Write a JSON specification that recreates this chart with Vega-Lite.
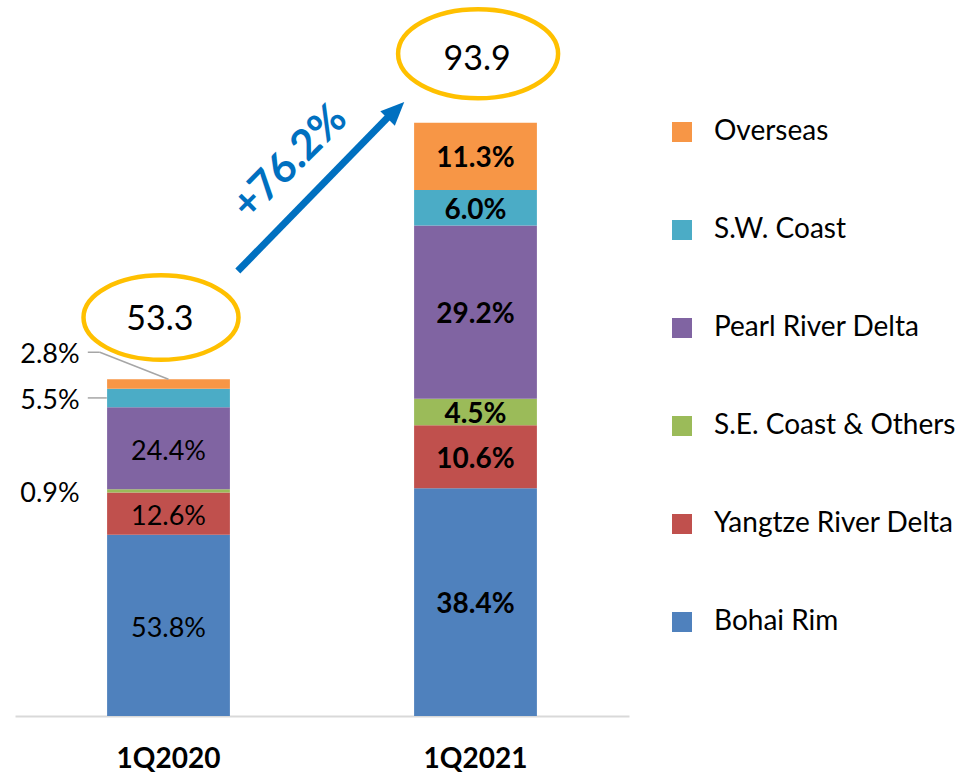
{
  "$schema": "https://vega.github.io/schema/vega-lite/v6.json",
  "width": 614,
  "height": 716,
  "autosize": {"type": "none"},
  "padding": {"left": 15, "top": 0, "right": 340, "bottom": 57},
  "background": "white",
  "config": {
    "font": "Lato",
    "view": {"stroke": null},
    "axisY": {"disable": true},
    "axisX": {"domainColor": "#D9D9D9", "domainWidth": 2, "ticks": false, "grid": false, "labelFont": "Lato", "labelFontSize": 28, "labelFontWeight": "bold", "labelColor": "#000000", "labelPadding": 29, "labelAngle": 0},
    "legend": {"orient": "none", "legendX": 653, "legendY": 118, "title": null, "symbolType": "square", "symbolSize": 400, "symbolStrokeWidth": 0, "symbolOpacity": 1, "labelFont": "Lato", "labelFontSize": 28, "labelColor": "#000000", "labelOffset": 18, "rowPadding": 70, "labelLimit": 400, "padding": 0}
  },
  "datasets": {
    "shares": [
      {"period": "1Q2020", "region": "Bohai Rim", "share": 53.8, "value": 28.68},
      {"period": "1Q2020", "region": "Yangtze River Delta", "share": 12.6, "value": 6.72},
      {"period": "1Q2020", "region": "S.E. Coast & Others", "share": 0.9, "value": 0.48},
      {"period": "1Q2020", "region": "Pearl River Delta", "share": 24.4, "value": 13.01},
      {"period": "1Q2020", "region": "S.W. Coast", "share": 5.5, "value": 2.93},
      {"period": "1Q2020", "region": "Overseas", "share": 2.8, "value": 1.49},
      {"period": "1Q2021", "region": "Bohai Rim", "share": 38.4, "value": 36.06},
      {"period": "1Q2021", "region": "Yangtze River Delta", "share": 10.6, "value": 9.95},
      {"period": "1Q2021", "region": "S.E. Coast & Others", "share": 4.5, "value": 4.23},
      {"period": "1Q2021", "region": "Pearl River Delta", "share": 29.2, "value": 27.42},
      {"period": "1Q2021", "region": "S.W. Coast", "share": 6.0, "value": 5.63},
      {"period": "1Q2021", "region": "Overseas", "share": 11.3, "value": 10.61}
    ],
    "totals": [
      {"period": "1Q2020", "total": 53.3},
      {"period": "1Q2021", "total": 93.9}
    ],
    "growth": [
      {"from": "1Q2020", "to": "1Q2021", "start": 53.3, "end": 93.9, "label": "+76.2%"}
    ]
  },
  "layer": [
    {
      "data": {"name": "shares"},
      "transform": [
        {"calculate": "indexof(['Bohai Rim','Yangtze River Delta','S.E. Coast & Others','Pearl River Delta','S.W. Coast','Overseas'], datum.region)", "as": "rank"},
        {"stack": "value", "groupby": ["period"], "sort": [{"field": "rank", "order": "ascending"}], "as": ["y0", "y1"]},
        {"calculate": "(datum.y0 + datum.y1) / 2", "as": "mid"},
        {"calculate": "format(datum.share, '.1f') + '%'", "as": "label"}
      ],
      "layer": [
        {
          "mark": {"type": "bar"},
          "encoding": {
            "x": {"field": "period", "type": "nominal", "title": null, "scale": {"domain": ["1Q2020", "1Q2021"], "paddingInner": 0.6, "paddingOuter": 0.3}},
            "y": {"field": "y0", "type": "quantitative", "scale": {"domain": [0, 113.35], "nice": false}},
            "y2": {"field": "y1"},
            "color": {
              "field": "region", "type": "nominal",
              "scale": {"domain": ["Overseas", "S.W. Coast", "Pearl River Delta", "S.E. Coast & Others", "Yangtze River Delta", "Bohai Rim"], "range": ["#F79646", "#4BACC6", "#8064A2", "#9BBB59", "#C0504D", "#4F81BD"]}
            }
          }
        },
        {
          "transform": [{"filter": "datum.period === '1Q2020' && datum.share >= 10"}],
          "mark": {"type": "text", "fontSize": 27, "color": "#000000", "align": "center", "baseline": "middle", "dy": 3.5},
          "encoding": {
            "x": {"field": "period", "type": "nominal", "title": null},
            "y": {"field": "mid", "type": "quantitative", "scale": {"domain": [0, 113.35], "nice": false}},
            "text": {"field": "label"}
          }
        },
        {
          "transform": [{"filter": "datum.period === '1Q2021'"}],
          "mark": {"type": "text", "fontSize": 28, "fontWeight": "bold", "color": "#000000", "align": "center", "baseline": "middle", "dy": 3},
          "encoding": {
            "x": {"field": "period", "type": "nominal", "title": null},
            "y": {"field": "mid", "type": "quantitative", "scale": {"domain": [0, 113.35], "nice": false}},
            "text": {"field": "label"}
          }
        },
        {
          "transform": [{"filter": "datum.period === '1Q2020' && datum.share < 10 && datum.region !== 'Overseas'"}],
          "mark": {"type": "text", "fontSize": 27, "color": "#000000", "align": "center", "baseline": "middle", "xOffset": -118.5, "dy": 3},
          "encoding": {
            "x": {"field": "period", "type": "nominal", "title": null},
            "y": {"field": "mid", "type": "quantitative", "scale": {"domain": [0, 113.35], "nice": false}},
            "text": {"field": "label"}
          }
        },
        {
          "transform": [{"filter": "datum.period === '1Q2020' && datum.region === 'Overseas'"}],
          "mark": {"type": "text", "fontSize": 27, "color": "#000000", "align": "center", "baseline": "middle", "xOffset": -118.5, "yOffset": -31, "dy": 2.5},
          "encoding": {
            "x": {"field": "period", "type": "nominal", "title": null},
            "y": {"field": "mid", "type": "quantitative", "scale": {"domain": [0, 113.35], "nice": false}},
            "text": {"field": "label"}
          }
        },
        {
          "transform": [{"filter": "datum.period === '1Q2020' && datum.region === 'S.W. Coast'"}],
          "mark": {"type": "rule", "color": "#A6A6A6", "strokeWidth": 1.5, "xOffset": -80.7, "x2Offset": -61.7},
          "encoding": {
            "x": {"field": "period", "type": "nominal", "title": null},
            "x2": {"field": "period"},
            "y": {"field": "mid", "type": "quantitative", "scale": {"domain": [0, 113.35], "nice": false}}
          }
        },
        {
          "transform": [{"filter": "datum.period === '1Q2020' && datum.region === 'Overseas'"}],
          "mark": {"type": "rule", "color": "#A6A6A6", "strokeWidth": 1.5, "xOffset": -80.7, "x2Offset": -68.7, "yOffset": -27},
          "encoding": {
            "x": {"field": "period", "type": "nominal", "title": null},
            "x2": {"field": "period"},
            "y": {"field": "y1", "type": "quantitative", "scale": {"domain": [0, 113.35], "nice": false}}
          }
        },
        {
          "transform": [{"filter": "datum.period === '1Q2020' && datum.region === 'Overseas'"}],
          "mark": {"type": "rule", "color": "#A6A6A6", "strokeWidth": 1.5, "xOffset": -68.7, "x2Offset": 0, "yOffset": -27, "y2Offset": 0},
          "encoding": {
            "x": {"field": "period", "type": "nominal", "title": null},
            "x2": {"field": "period"},
            "y": {"field": "y1", "type": "quantitative", "scale": {"domain": [0, 113.35], "nice": false}},
            "y2": {"field": "y1"}
          }
        }
      ]
    },
    {
      "data": {"name": "totals"},
      "transform": [{"filter": "datum.period === '1Q2020'"}],
      "layer": [
        {
          "mark": {"type": "point", "shape": "M-1,0A1,0.545,0,1,1,1,0A1,0.545,0,1,1,-1,0Z", "size": 24025, "filled": false, "stroke": "#FFC000", "strokeWidth": 4.5, "opacity": 1, "xOffset": -7.5, "yOffset": -61.8},
          "encoding": {
            "x": {"field": "period", "type": "nominal", "title": null},
            "y": {"field": "total", "type": "quantitative", "scale": {"domain": [0, 113.35], "nice": false}}
          }
        },
        {
          "mark": {"type": "text", "fontSize": 34, "color": "#000000", "align": "center", "baseline": "middle", "xOffset": -8.7, "yOffset": -61.8, "dy": 2},
          "encoding": {
            "x": {"field": "period", "type": "nominal", "title": null},
            "y": {"field": "total", "type": "quantitative", "scale": {"domain": [0, 113.35], "nice": false}},
            "text": {"field": "total", "format": ".1f"}
          }
        }
      ]
    },
    {
      "data": {"name": "totals"},
      "transform": [{"filter": "datum.period === '1Q2021'"}],
      "layer": [
        {
          "mark": {"type": "point", "shape": "M-1,0A1,0.556,0,1,1,1,0A1,0.556,0,1,1,-1,0Z", "size": 25600, "filled": false, "stroke": "#FFC000", "strokeWidth": 4.5, "opacity": 1, "xOffset": 2.6, "yOffset": -69.1},
          "encoding": {
            "x": {"field": "period", "type": "nominal", "title": null},
            "y": {"field": "total", "type": "quantitative", "scale": {"domain": [0, 113.35], "nice": false}}
          }
        },
        {
          "mark": {"type": "text", "fontSize": 34, "color": "#000000", "align": "center", "baseline": "middle", "xOffset": 1.6, "yOffset": -65.3, "dy": 2.5},
          "encoding": {
            "x": {"field": "period", "type": "nominal", "title": null},
            "y": {"field": "total", "type": "quantitative", "scale": {"domain": [0, 113.35], "nice": false}},
            "text": {"field": "total", "format": ".1f"}
          }
        }
      ]
    },
    {
      "data": {"name": "growth"},
      "layer": [
        {
          "mark": {"type": "rule", "color": "#0070C0", "strokeWidth": 7, "strokeCap": "butt", "xOffset": 69.3, "yOffset": -108.3, "x2Offset": -85.4, "y2Offset": -7.8},
          "encoding": {
            "x": {"field": "from", "type": "nominal", "title": null},
            "x2": {"field": "to"},
            "y": {"field": "start", "type": "quantitative", "scale": {"domain": [0, 113.35], "nice": false}},
            "y2": {"field": "end"}
          }
        },
        {
          "mark": {"type": "point", "shape": "M0,-1L0.87,1L-0.87,1Z", "size": 557, "angle": 45, "filled": true, "color": "#0070C0", "opacity": 1, "strokeWidth": 0, "xOffset": -79.6, "yOffset": -12.6},
          "encoding": {
            "x": {"field": "to", "type": "nominal", "title": null},
            "y": {"field": "end", "type": "quantitative", "scale": {"domain": [0, 113.35], "nice": false}}
          }
        },
        {
          "mark": {"type": "text", "fontSize": 42, "fontWeight": "bold", "color": "#0070C0", "align": "center", "baseline": "middle", "angle": 315, "xOffset": 121.3, "yOffset": -217.3},
          "encoding": {
            "x": {"field": "from", "type": "nominal", "title": null},
            "y": {"field": "start", "type": "quantitative", "scale": {"domain": [0, 113.35], "nice": false}},
            "text": {"field": "label"}
          }
        }
      ]
    }
  ]
}
